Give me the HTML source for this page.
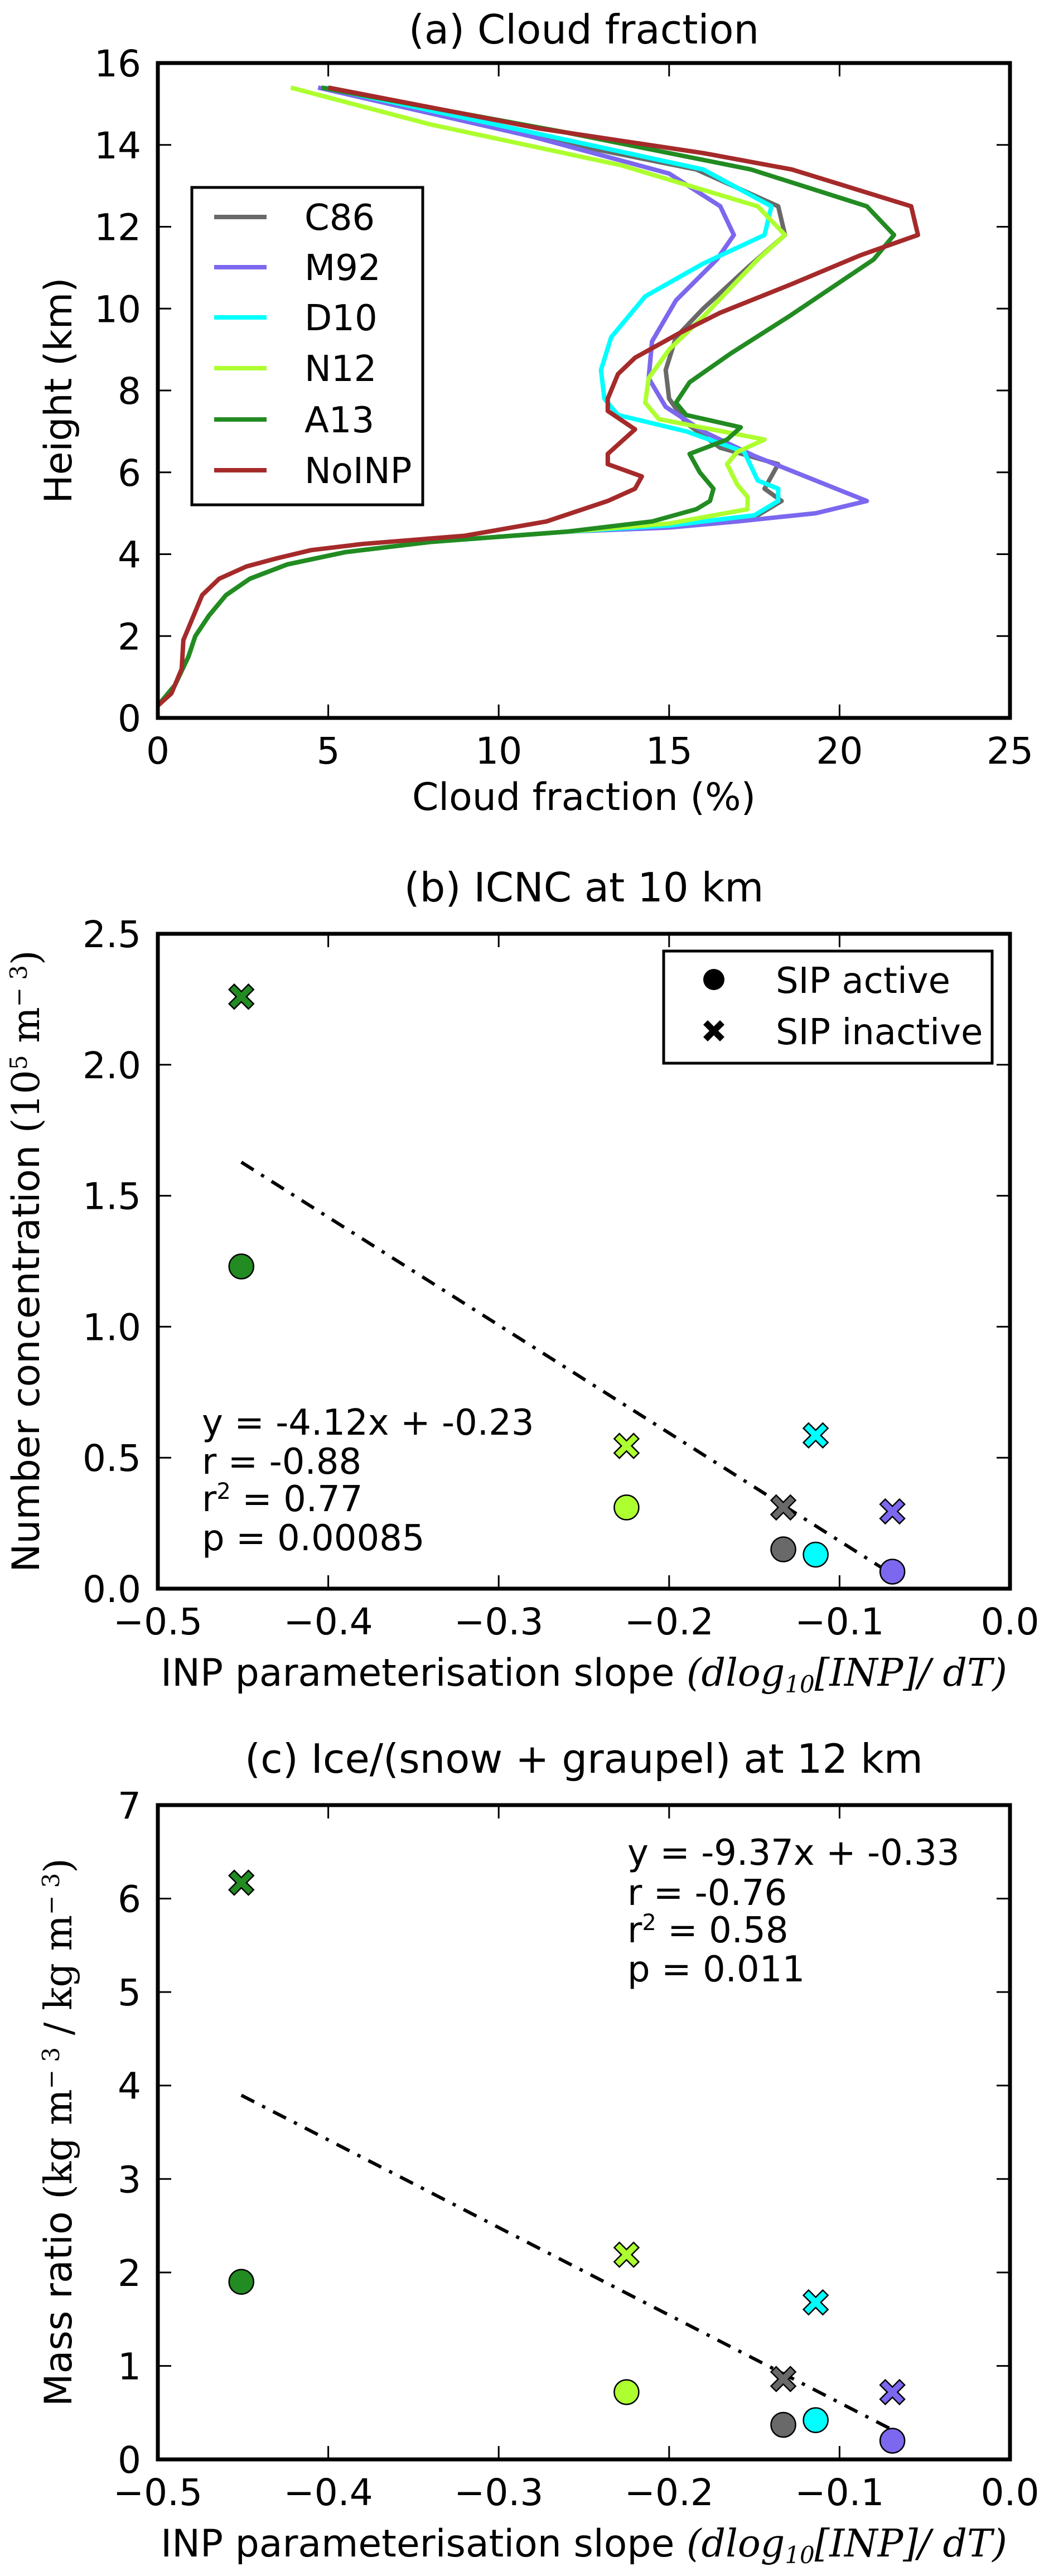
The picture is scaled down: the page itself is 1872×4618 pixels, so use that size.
<!DOCTYPE html>
<html><head><meta charset="utf-8"><style>
body{margin:0;background:#fff}
svg{display:block;font-family:"DejaVu Sans","Liberation Sans",sans-serif}
</style></head><body>
<svg id="fig" width="1872" height="4618" viewBox="0 0 1872 4618" xmlns="http://www.w3.org/2000/svg"></svg>
<script>
// ---------- Panel (a) data ----------
const seriesNames = ["C86","M92","D10","N12","A13","NoINP"];
const seriesColors = ["#696969","#7b68ee","#00ffff","#adff2f","#228b22","#a52a2a"];
const lowX = [0,0.5,0.9,1.1,1.5,2,2.7,3.8,5.5,8,12];
const lowH = [0.3,0.8,1.5,2,2.5,3,3.4,3.75,4.05,4.3,4.55];
const c86X = [15,17.5,18.3,17.8,18.2,16.5,15.5,15,14.9,15.2,16,17.3,18.4,18.2,15.8,11,4.8];
const c86H = [4.7,4.9,5.3,5.6,6.2,6.6,7.2,7.8,8.5,9.3,10,11,11.8,12.5,13.4,14.2,15.4];
const m92X = [15,17,19.3,20.8,19,17.5,16,14.9,14.4,14.5,15.2,16.4,16.9,16.5,15,11,4.7];
const m92H = [4.65,4.8,5.0,5.3,5.9,6.4,7,7.6,8.3,9.2,10.2,11.2,11.8,12.5,13.3,14.2,15.4];
const d10X = [15,17.5,18.2,18.2,17.6,17.2,15.5,13.5,13.1,13,13.3,14.3,16,17.8,18,16,11,4.9];
const d10H = [4.7,4.95,5.3,5.6,5.8,6.5,7,7.4,7.8,8.5,9.3,10.3,11.1,11.8,12.5,13.4,14.3,15.4];
const n12X = [15,17.3,17.3,17,16.7,17,17.8,14.7,14.3,14.4,15,16,17.6,18.4,17.6,13.6,8,3.9];
const n12H = [4.75,5.1,5.4,5.7,6.2,6.5,6.8,7.3,7.7,8.3,9,9.8,11.2,11.8,12.5,13.5,14.5,15.4];
const a13X = [14.5,15.8,16.2,16.3,15.9,15.6,16.7,17.1,15.5,15.2,15.6,16.8,18.5,21,21.6,20.8,17.4,12,4.8];
const a13H = [4.8,5.1,5.3,5.6,6.0,6.45,6.8,7.1,7.4,7.7,8.2,8.9,9.8,11.2,11.8,12.5,13.4,14.3,15.4];
const noinpX = [0,0.4,0.7,0.75,1,1.3,1.8,2.6,3.5,4.5,6,9,11.4,13.2,14,14.2,13.2,13.2,13.6,14,13.2,13.2,13.5,14,15.3,16.5,18.6,20.6,22.3,22.1,18.6,16,11.2,5];
const noinpH = [0.3,0.6,1.2,1.9,2.4,3,3.4,3.7,3.9,4.1,4.25,4.45,4.8,5.3,5.6,5.9,6.2,6.45,6.75,7.05,7.5,7.8,8.4,8.8,9.4,9.9,10.6,11.3,11.8,12.5,13.4,13.8,14.4,15.4];
const aXTicks = [0,5,10,15,20,25];
const aYTicks = [0,2,4,6,8,10,12,14,16];

// ---------- Panels (b),(c) data ----------
const slopes = [-0.133,-0.069,-0.114,-0.225,-0.451]; // C86,M92,D10,N12,A13
const pointColors = ["#696969","#7b68ee","#00ffff","#adff2f","#228b22"];
const icncActive = [0.15,0.065,0.13,0.31,1.23];
const icncInactive = [0.31,0.295,0.585,0.545,2.26];
const massActive = [0.37,0.2,0.42,0.72,1.9];
const massInactive = [0.86,0.72,1.68,2.19,6.17];
const bFit = [-4.12,-0.23];
const cFit = [-9.37,-0.33];
const bYTicks = [0,0.5,1.0,1.5,2.0,2.5];
const cYTicks = [0,1,2,3,4,5,6,7];
const slopeTicks = [-0.5,-0.4,-0.3,-0.2,-0.1,0.0];

const NS="http://www.w3.org/2000/svg";
const svg=document.getElementById('fig');
function el(tag,attrs,parent,text){const e=document.createElementNS(NS,tag);for(const k in attrs)e.setAttribute(k,attrs[k]);if(text!==undefined)e.textContent=text;(parent||svg).appendChild(e);return e;}

const L=283,R=1811;
function frame(g,top,bot,xt,xs,yt,ys,fmtX,fmtY){
  xt.forEach(v=>{const x=xs(v);
    el('line',{x1:x,x2:x,y1:bot,y2:bot-24,stroke:'#000','stroke-width':3},g);
    el('line',{x1:x,x2:x,y1:top,y2:top+24,stroke:'#000','stroke-width':3},g);
    const t=el('text',{x:x,y:bot+82,'font-size':66,'text-anchor':'middle'},g,fmtX(v));
    
    
  });
  yt.forEach(v=>{const y=ys(v);
    el('line',{x1:L,x2:L+24,y1:y,y2:y,stroke:'#000','stroke-width':3},g);
    el('line',{x1:R,x2:R-24,y1:y,y2:y,stroke:'#000','stroke-width':3},g);
    const t=el('text',{x:253,y:y+24,'font-size':66,'text-anchor':'end'},g,fmtY(v));
    
    
  });
  const r=el('rect',{x:L,y:top,width:R-L,height:bot-top,fill:'none',stroke:'#000','stroke-width':7},g);
  
  
}
const minus=v=>v<0?'\u2212'+Math.abs(v).toFixed(1):v.toFixed(1);

// ===== Panel a =====
{
const top=113,bot=1287;
const xs=v=>L+v/25*(R-L), ys=v=>bot-v/16*(bot-top);
const g=el('g',{});


const t=el('text',{x:1047,y:78,'font-size':72,'text-anchor':'middle'},g,'(a) Cloud fraction');


const xsets=[c86X,m92X,d10X,n12X,a13X,noinpX], hsets=[c86H,m92H,d10H,n12H,a13H,noinpH];
const cg=el('g',{'clip-path':'url(#clipa)'},g);
const cp=el('clipPath',{id:'clipa'},g);el('rect',{x:L,y:top,width:R-L,height:bot-top},cp);
for(let i=0;i<6;i++){
  let X=xsets[i],H=hsets[i];
  if(i<5){X=lowX.concat(X);H=lowH.concat(H);}
  const d=X.map((v,j)=>(j?'L':'M')+xs(v).toFixed(1)+' '+ys(H[j]).toFixed(1)).join(' ');
  const p=el('path',{d:d,fill:'none',stroke:seriesColors[i],'stroke-width':8,'stroke-linejoin':'round'},cg);
  
  
}
frame(g,top,bot,aXTicks,xs,aYTicks,ys,v=>String(v),v=>String(v));
const xl=el('text',{x:1047,y:1452,'font-size':68,'text-anchor':'middle'},g,'Cloud fraction (%)');


const yl=el('text',{x:0,y:0,'font-size':68,'text-anchor':'middle',transform:'translate(128,700) rotate(-90)'},g,'Height (km)');


const lg=el('g',{},g);


el('rect',{x:344,y:336,width:414,height:569,fill:'#fff',stroke:'#000','stroke-width':5},lg);
const ly=[389,479,569,660,752,843];
seriesNames.forEach((n,i)=>{
  const e=el('g',{},lg);
  
  
  el('line',{x1:384,x2:478,y1:ly[i],y2:ly[i],stroke:seriesColors[i],'stroke-width':8},e);
  el('text',{x:546,y:ly[i]+23,'font-size':64},e,n);
});
}

// ===== Scatter panels =====
function scatter(opts){
  const {top,bot,ymax,yt,act,inact,fit,title,name,ylab,fmtY}=opts;
  const xs=v=>L+(v+0.5)/0.5*(R-L), ys=v=>bot-v/ymax*(bot-top);
  const g=el('g',{});
  
  
  const t=el('text',{x:1047,y:top-58,'font-size':72,'text-anchor':'middle'},g,title);
  
  
  const x0=Math.min(...slopes),x1=Math.max(...slopes);
  const fl=el('line',{x1:xs(x0),y1:ys(fit[0]*x0+fit[1]),x2:xs(x1),y2:ys(fit[0]*x1+fit[1]),stroke:'#000','stroke-width':6,'stroke-dasharray':'26 16 6 16'},g);
  
  
  slopes.forEach((s,i)=>{
    const c=el('ellipse',{cx:xs(s),cy:ys(act[i]),rx:22,ry:22,fill:pointColors[i],stroke:'#000','stroke-width':2.5},g);
    
    
    const x=xs(s),y=ys(inact[i]);
    const m=el('path',{d:xPath(x,y,22),fill:pointColors[i],stroke:'#000','stroke-width':2.5},g);
    
    
  });
  frame(g,top,bot,slopeTicks,xs,yt,ys,minus,fmtY);
  const xl=el('text',{x:1047,y:bot+174,'font-size':68,'text-anchor':'middle'},g);
  
  
  xl.innerHTML='INP parameterisation slope  <tspan font-family="DejaVu Serif,Liberation Serif,serif" font-style="italic">(dlog<tspan font-size="42" dy="12">10</tspan><tspan dy="-12">[INP]/ dT)</tspan></tspan>';
  const yl=el('text',{x:0,y:0,'font-size':68,'text-anchor':'middle',transform:'translate('+opts.ylx+','+((top+bot)/2)+') rotate(-90)'},g);
  
  
  yl.innerHTML=ylab;
  return {g,xs,ys};
}
function xPath(x,y,r){const a=r*0.42;
  return `M${x-r} ${y-r+a}L${x-r+a} ${y-r}L${x} ${y-a}L${x+r-a} ${y-r}L${x+r} ${y-r+a}L${x+a} ${y}L${x+r} ${y+r-a}L${x+r-a} ${y+r}L${x} ${y+a}L${x-r+a} ${y+r}L${x-r} ${y+r-a}L${x-a} ${y}Z`;}

const serif='font-family="DejaVu Serif,Liberation Serif,serif"';
const pb=scatter({top:1674,bot:2848,ymax:2.5,yt:bYTicks,act:icncActive,inact:icncInactive,fit:bFit,
 title:'(b) ICNC at 10 km',name:'panel-b-icnc',ylx:70,fmtY:v=>v.toFixed(1),
 ylab:'Number concentration  <tspan '+serif+'>(10<tspan font-size="42" dy="-22">5</tspan><tspan dy="22"> m</tspan><tspan font-size="42" dy="-22">\u2212 3</tspan><tspan dy="22">)</tspan></tspan>'});
{
 const lg=el('g',{},pb.g);
 
 
 el('rect',{x:1190,y:1705,width:589,height:201,fill:'#fff',stroke:'#000','stroke-width':5},lg);
 el('ellipse',{cx:1280,cy:1756,rx:19,ry:19,fill:'#000'},lg);
 el('path',{d:xPath(1280,1848,19),fill:'#000'},lg);
 el('text',{x:1391,y:1780,'font-size':64},lg,'SIP active');
 el('text',{x:1391,y:1872,'font-size':64},lg,'SIP inactive');
 const st=el('text',{'font-size':64},pb.g);
 
 
 st.innerHTML='<tspan x="362" y="2572">y = -4.12x + -0.23</tspan><tspan x="362" y="2642">r = -0.88</tspan><tspan x="362" y="2709">r<tspan font-size="40" dy="-22">2</tspan><tspan dy="22"> = 0.77</tspan></tspan><tspan x="362" y="2779">p = 0.00085</tspan>';
}
const pc=scatter({top:3236,bot:4409,ymax:7,yt:cYTicks,act:massActive,inact:massInactive,fit:cFit,
 title:'(c) Ice/(snow + graupel) at 12 km',name:'panel-c-mass-ratio',ylx:128,fmtY:v=>String(v),
 ylab:'Mass ratio  <tspan '+serif+'>(kg  m<tspan font-size="42" dy="-22">\u2212 3</tspan><tspan dy="22"> / kg  m</tspan><tspan font-size="42" dy="-22">\u2212 3</tspan><tspan dy="22">)</tspan></tspan>'});
{
 const st=el('text',{'font-size':64},pc.g);
 
 
 st.innerHTML='<tspan x="1125" y="3343">y = -9.37x + -0.33</tspan><tspan x="1125" y="3415">r = -0.76</tspan><tspan x="1125" y="3482">r<tspan font-size="40" dy="-22">2</tspan><tspan dy="22"> = 0.58</tspan></tspan><tspan x="1125" y="3552">p = 0.011</tspan>';
}
</script>
</body></html>
